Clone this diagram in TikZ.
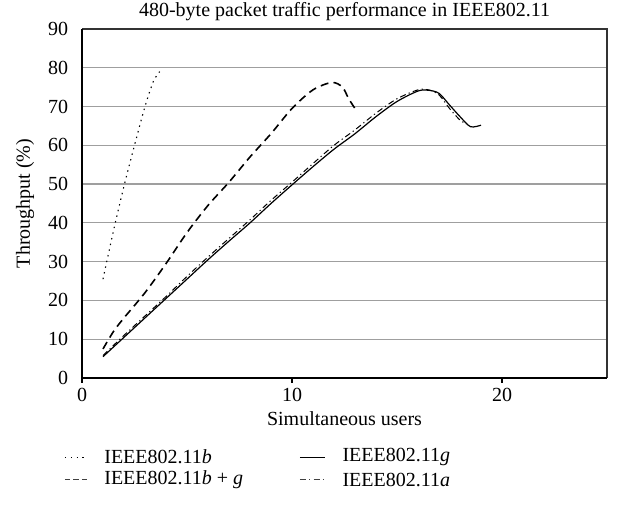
\documentclass[tikz,border=0pt]{standalone}
\usepackage{fontspec}
\setmainfont{Liberation Serif}
\tikzset{
  gridline/.style={gray!75, line width=0.6pt},
  achse/.style={black, line width=0.7pt},
  kurveb/.style={black, line width=0.55pt, dash pattern=on 0.7pt off 2.2pt},
  kurvebg/.style={black, line width=0.8pt, dash pattern=on 4pt off 2.6pt},
  kurveg/.style={black, line width=0.6pt},
  kurvea/.style={black, line width=0.5pt, dash pattern=on 3pt off 1.6pt on 0.6pt off 1.6pt},
  beschr/.style={font=\fontsize{10}{11}\selectfont, inner sep=1pt}
}
\begin{document}
\begin{tikzpicture}[x=10.5pt, y=1.939pt]
    \useasboundingbox (-3.905,-37.39) rectangle (25.857,97.47);

    % Gitterlinien
    \draw[gridline] (0,10) -- (25,10);
    \draw[gridline] (0,20) -- (25,20);
    \draw[gridline] (0,30) -- (25,30);
    \draw[gridline] (0,40) -- (25,40);
    \draw[gridline] (0,50) -- (25,50);
    \draw[gridline] (0,60) -- (25,60);
    \draw[gridline] (0,70) -- (25,70);
    \draw[gridline] (0,80) -- (25,80);
    \draw[gridline, gray!40!black] (0,90) -- (25,90) -- (25,0);

    % Achsen
    \draw[achse] (0,90) -- (0,0) -- (25,0);
    \draw[achse] (0,0) -- (0,-1.2);
    \draw[achse] (10,0) -- (10,-1.2);
    \draw[achse] (20,0) -- (20,-1.2);

    % y-Werte
    \node[beschr, anchor=east] (y0) at (-0.55,0) {0};
    \node[beschr, anchor=east] (y10) at (-0.55,10) {10};
    \node[beschr, anchor=east] (y20) at (-0.55,20) {20};
    \node[beschr, anchor=east] (y30) at (-0.55,30) {30};
    \node[beschr, anchor=east] (y40) at (-0.55,40) {40};
    \node[beschr, anchor=east] (y50) at (-0.55,50) {50};
    \node[beschr, anchor=east] (y60) at (-0.55,60) {60};
    \node[beschr, anchor=east] (y70) at (-0.55,70) {70};
    \node[beschr, anchor=east] (y80) at (-0.55,80) {80};
    \node[beschr, anchor=east] (y90) at (-0.55,90) {90};

    % x-Werte
    \node[beschr] (x0) at (0,-4.3) {0};
    \node[beschr] (x10) at (10,-4.3) {10};
    \node[beschr] (x20) at (20,-4.3) {20};

    % Titel und Achsenbeschriftung
    \node[beschr] (titel) at (12.5,94.6) {480-byte packet traffic performance in IEEE802.11};
    \node[beschr, rotate=90] (ylabel) at (-2.71,45) {Throughput (\%)};
    \node[beschr] (xlabel) at (12.5,-10.4) {Simultaneous users};

    % Kurven
    \draw[kurveb] plot[smooth, tension=0.5] coordinates {(1,25.5) (1.5,38) (2,49.5) (2.5,60) (3,70) (3.4,76.5) (3.7,79)};
    \draw[kurvebg] plot[smooth, tension=0.5] coordinates {(1,7.5) (1.5,12) (2,15.5) (3,22) (4,29.5) (5,37.5) (6,44.5) (7,50.5) (8,57) (9,63) (10,69.5) (11,74.3) (11.9,76.2) (12.4,75) (12.7,72) (13,69.5)};
    \draw[kurveg] plot[smooth, tension=0.5] coordinates {(1,5.5) (2,10.5) (3,15.5) (4,20.5) (5,25.5) (6,30.5) (7,35.3) (8,40) (9,45) (10,49.8) (11,54.5) (12,59) (13,63) (14,67.4) (15,71.3) (16,74) (16.5,74.2) (17,73.4) (17.5,70.4) (18,67.4) (18.5,64.8) (19,65.2)};
    \draw[kurvea] plot[smooth, tension=0.5] coordinates {(1,5.8) (2,11) (3,16) (4,21) (5,26.2) (6,31.2) (7,36) (8,40.8) (9,45.8) (10,50.5) (11,55.3) (12,60) (13,64) (14,68.3) (15,72) (16,74.3) (16.5,74.3) (17,73) (17.5,69.5) (18,66.5) (18.3,65.5)};

    % Legende
    \node[beschr, anchor=west] (legb) at (0.95,-20.4) {IEEE802.11\textit{b}};
    \node[beschr, anchor=west] (legbg) at (0.95,-26.3) {IEEE802.11\textit{b} + \textit{g}};
    \node[beschr, anchor=west] (legg) at (12.29,-20.4) {IEEE802.11\textit{g}};
    \node[beschr, anchor=west] (lega) at (12.29,-26.3) {IEEE802.11\textit{a}};
    \coordinate (lb) at (-0.81,-20.4);
    \coordinate (lbg) at (-0.81,-26.3);
    \coordinate (lg) at (10.38,-20.4);
    \coordinate (la) at (10.38,-26.3);
    \draw[kurveb] (lb) -- ++(1.1,0);
    \draw[gray!50!black, line width=0.5pt, dash pattern=on 2.6pt off 1.6pt] (lbg) -- ++(1.1,0);
    \draw[kurveg] (lg) -- ++(1.2,0);
    \draw[kurvea, gray!50!black] (la) -- ++(1.2,0);
\end{tikzpicture}
\end{document}
